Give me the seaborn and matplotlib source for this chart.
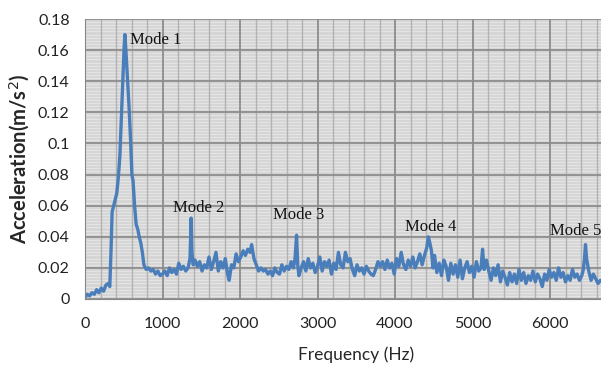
import numpy as np
import pandas as pd
import matplotlib
matplotlib.use("Agg")
import matplotlib.pyplot as plt
from matplotlib.ticker import MultipleLocator
import seaborn as sns

# Spectrum (Hz, m/s^2), 12 values per row
freq = [0, 30, 60, 90, 120, 150, 180, 210, 240, 270, 300, 320,
        335, 350, 370, 390, 410, 430, 450, 470, 490, 505, 515, 530,
        550, 570, 590, 605, 620, 640, 660, 680, 700, 720, 740, 760,
        790, 820, 850, 880, 910, 940, 970, 1000, 1030, 1060, 1090, 1120,
        1150, 1180, 1210, 1240, 1270, 1300, 1330, 1355, 1370, 1380, 1395, 1420,
        1450, 1480, 1510, 1540, 1570, 1600, 1630, 1660, 1690, 1720, 1750, 1780,
        1810, 1840, 1860, 1890, 1920, 1950, 1980, 2010, 2040, 2070, 2100, 2130,
        2150, 2180, 2210, 2240, 2270, 2300, 2330, 2360, 2390, 2420, 2450, 2480,
        2510, 2540, 2570, 2600, 2630, 2660, 2690, 2710, 2730, 2745, 2760, 2790,
        2820, 2850, 2880, 2910, 2940, 2970, 3000, 3030, 3060, 3090, 3120, 3150,
        3180, 3210, 3240, 3270, 3300, 3330, 3360, 3390, 3420, 3450, 3480, 3510,
        3540, 3570, 3600, 3630, 3660, 3690, 3720, 3750, 3780, 3810, 3840, 3870,
        3900, 3930, 3960, 3990, 4020, 4050, 4080, 4110, 4140, 4170, 4200, 4230,
        4260, 4290, 4320, 4350, 4380, 4410, 4430, 4450, 4470, 4490, 4510, 4540,
        4570, 4600, 4630, 4660, 4690, 4720, 4750, 4780, 4810, 4840, 4870, 4900,
        4930, 4960, 4990, 5020, 5050, 5080, 5110, 5130, 5150, 5180, 5210, 5240,
        5270, 5300, 5330, 5360, 5390, 5420, 5450, 5480, 5510, 5540, 5570, 5600,
        5630, 5660, 5690, 5720, 5750, 5780, 5810, 5840, 5870, 5900, 5930, 5960,
        5990, 6020, 6050, 6080, 6110, 6140, 6170, 6200, 6230, 6260, 6290, 6320,
        6350, 6380, 6410, 6430, 6445, 6458, 6472, 6500, 6530, 6560, 6590, 6620,
        6650, 6680]
accel = [0.001, 0.003, 0.002, 0.004, 0.003, 0.006, 0.004, 0.007, 0.005, 0.009, 0.010, 0.008,
         0.030, 0.056, 0.060, 0.064, 0.068, 0.078, 0.092, 0.118, 0.145, 0.162, 0.170, 0.158,
         0.140, 0.122, 0.100, 0.080, 0.076, 0.060, 0.048, 0.045, 0.040, 0.036, 0.030, 0.022,
         0.019, 0.020, 0.018, 0.019, 0.016, 0.018, 0.015, 0.016, 0.018, 0.015, 0.020, 0.017,
         0.019, 0.016, 0.023, 0.019, 0.021, 0.018, 0.020, 0.026, 0.052, 0.030, 0.022, 0.025,
         0.021, 0.024, 0.018, 0.022, 0.020, 0.027, 0.019, 0.024, 0.030, 0.018, 0.024, 0.020,
         0.026, 0.016, 0.012, 0.022, 0.020, 0.029, 0.024, 0.027, 0.031, 0.028, 0.032, 0.030,
         0.035, 0.026, 0.022, 0.018, 0.020, 0.018, 0.019, 0.016, 0.018, 0.015, 0.020, 0.017,
         0.016, 0.022, 0.018, 0.021, 0.019, 0.024, 0.020, 0.026, 0.041, 0.022, 0.015, 0.020,
         0.024, 0.018, 0.026, 0.020, 0.023, 0.017, 0.021, 0.027, 0.018, 0.024, 0.021, 0.025,
         0.016, 0.023, 0.019, 0.030, 0.022, 0.020, 0.030, 0.024, 0.026, 0.019, 0.015, 0.022,
         0.018, 0.020, 0.016, 0.021, 0.018, 0.016, 0.015, 0.019, 0.024, 0.021, 0.024, 0.019,
         0.025, 0.020, 0.023, 0.016, 0.026, 0.021, 0.030, 0.022, 0.019, 0.025, 0.021, 0.027,
         0.020, 0.024, 0.029, 0.022, 0.028, 0.033, 0.040, 0.036, 0.031, 0.020, 0.028, 0.017,
         0.023, 0.015, 0.025, 0.021, 0.012, 0.023, 0.016, 0.022, 0.014, 0.025, 0.013, 0.020,
         0.024, 0.017, 0.021, 0.014, 0.024, 0.018, 0.020, 0.032, 0.019, 0.025, 0.018, 0.012,
         0.020, 0.015, 0.022, 0.011, 0.018, 0.014, 0.009, 0.017, 0.011, 0.016, 0.010, 0.019,
         0.012, 0.017, 0.010, 0.015, 0.012, 0.018, 0.011, 0.016, 0.013, 0.008, 0.016, 0.012,
         0.019, 0.014, 0.017, 0.012, 0.020, 0.014, 0.017, 0.011, 0.015, 0.012, 0.019, 0.014,
         0.016, 0.012, 0.015, 0.019, 0.026, 0.035, 0.026, 0.018, 0.012, 0.016, 0.013, 0.010,
         0.012, 0.011]

mode_labels = ["Mode 1", "Mode 2", "Mode 3", "Mode 4", "Mode 5"]
mode_x = [580, 1134, 2423, 4124, 6005]
mode_y = [0.1665, 0.0585, 0.054, 0.046, 0.0437]

x_ticks = [0, 1000, 2000, 3000, 4000, 5000, 6000]
y_ticks = [0, 0.02, 0.04, 0.06, 0.08, 0.1, 0.12, 0.14, 0.16, 0.18]
y_ticklabels = ["0", "0.02", "0.04", "0.06", "0.08", "0.1", "0.12", "0.14", "0.16", "0.18"]

df = pd.DataFrame({"Frequency (Hz)": freq, "Acceleration": accel})

sns.set_style("white")
plt.rcParams["font.family"] = ["Lato", "DejaVu Sans"]

fig = plt.figure(figsize=(6.01, 3.69), dpi=100)
# the chart runs past the right edge of the picture (axis goes to 7000 Hz)
ax = fig.add_axes([85 / 601, 1 - 299 / 369, 542.5 / 601, 280 / 369])
ax.set_facecolor("#d4d4d4")

# graph-paper look: faint horizontal stripes under the grid
ax.hlines(np.arange(0.002, 0.18, 0.002), 0, 1, transform=ax.get_yaxis_transform(),
          color="#e4e4e4", linewidth=0.9, zorder=0.1)

ax.xaxis.set_minor_locator(MultipleLocator(200))
ax.grid(which="minor", axis="x", color="#b2b2b2", linewidth=1.0)
ax.set_axisbelow(True)

sns.lineplot(data=df, x="Frequency (Hz)", y="Acceleration", ax=ax,
             color="#4a7ebb", linewidth=2.4)

for lab, xx, yy in zip(mode_labels, mode_x, mode_y):
    ax.text(xx, yy, lab, family="Liberation Serif", fontsize=12,
            color="#111111", ha="left", va="center", clip_on=False)

ax.set_xlim(0, 7000)
ax.set_ylim(0, 0.18)
ax.set_xticks(x_ticks)
ax.set_yticks(y_ticks)
ax.set_yticklabels(y_ticklabels)
# major vertical lines at every 1000 Hz (incl. the one off the picture)
for xv in x_ticks[1:] + [7000]:
    ax.axvline(xv, color="#8c8c8c", linewidth=1.3, zorder=0.6)
ax.grid(which="major", axis="y", color="#8c8c8c", linewidth=1.3)
ax.tick_params(axis="both", which="major", labelsize=11.5, labelcolor="#222222",
               length=5, color="#888888", direction="out")
ax.tick_params(which="minor", length=0)
ax.tick_params(axis="x", pad=8)
ax.tick_params(axis="y", pad=6)

for s in ["top", "right"]:
    ax.spines[s].set_visible(False)
for s in ["left", "bottom"]:
    ax.spines[s].set_color("#888888")

ax.set_xlabel("Frequency (Hz)", fontsize=12.5, labelpad=11)
ax.set_ylabel("Acceleration(m/s$^2$)", fontsize=14.5, fontweight="bold", labelpad=4)

fig.savefig("out.png", dpi=100)
